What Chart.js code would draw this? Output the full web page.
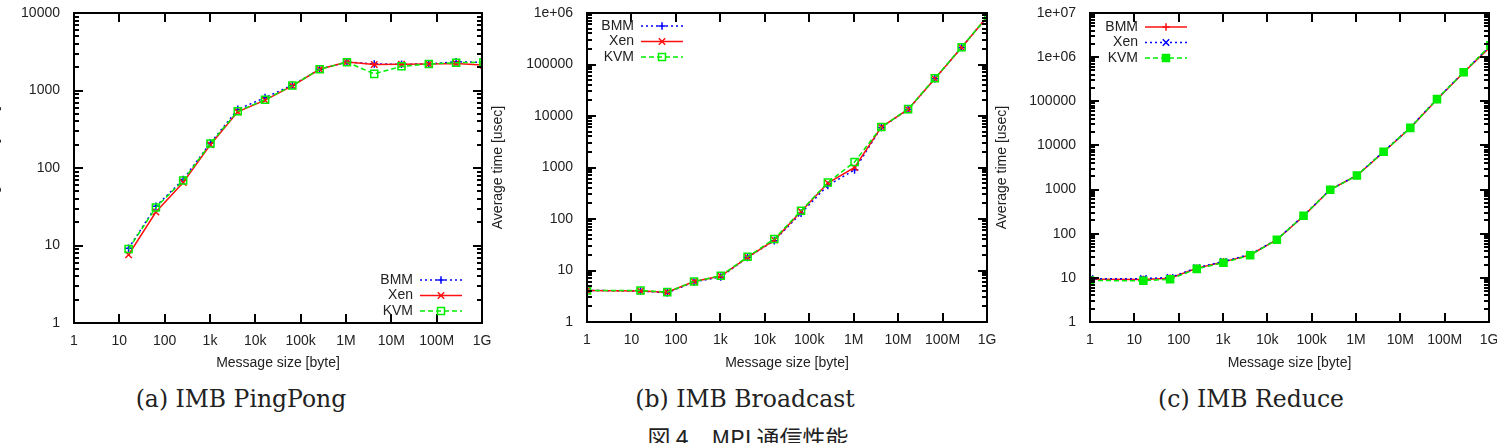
<!DOCTYPE html>
<html>
<head>
<meta charset="utf-8">
<script src="https://cdn.jsdelivr.net/npm/chart.js@4.4.1/dist/chart.umd.min.js"></script>
<style>
  body { margin: 0; background: #fff; width: 1497px; height: 443px; overflow: hidden; position: relative; }
  canvas { position: absolute; top: 0; }
  .cap { position: absolute; font-family: 'DejaVu Serif', serif; font-size: 23.5px; color: #222; white-space: nowrap; transform: translateX(-50%); }
  .fig { font-family: 'Noto Sans CJK JP', sans-serif; font-size: 23px; }
</style>
</head>
<body>
<canvas id="pingpong" width="508" height="380" style="left:-14px"></canvas>
<canvas id="broadcast" width="512" height="380" style="left:490px"></canvas>
<canvas id="reduce" width="503" height="380" style="left:994px"></canvas>
<div class="cap" style="left:241px; top:385px">(a) IMB PingPong</div>
<div class="cap" style="left:745px; top:385px">(b) IMB Broadcast</div>
<div class="cap" style="left:1251px; top:385px">(c) IMB Reduce</div>
<div class="cap fig" style="left:748px; top:420px">図 4　MPI 通信性能</div>
<script>
// message sizes [byte]
const pingpongSizes = [16, 64, 256, 1024, 4096, 16384, 65536, 262144, 1048576, 4194304, 16777216, 67108864, 268435456, 1073741824];
const collectiveSizes = [1, 16, 64, 256, 1024, 4096, 16384, 65536, 262144, 1048576, 4194304, 16777216, 67108864, 268435456, 1073741824];

// average time [usec]
const pingpongBMM = [9.2, 32, 71, 210, 570, 810, 1170, 1880, 2330, 2200, 2180, 2200, 2350, 2300];
const pingpongXen = [7.6, 27, 65, 200, 530, 750, 1150, 1880, 2330, 2160, 2180, 2200, 2230, 2120];
const pingpongKVM = [9.0, 31, 69, 207, 540, 760, 1160, 1880, 2320, 1640, 2050, 2200, 2280, 2320];

const broadcastBMM = [4.1, 4.0, 3.7, 6.0, 7.5, 18, 38, 130, 450, 900, 6000, 13400, 53000, 214000, 900000];
const broadcastXen = [4.1, 4.0, 3.8, 6.1, 7.8, 18, 39, 140, 500, 1000, 6100, 13400, 53000, 214000, 900000];
const broadcastKVM = [4.1, 4.1, 3.8, 6.1, 7.9, 18.5, 41, 145, 510, 1280, 6100, 13600, 54000, 216000, 910000];

const reduceBMM = [9.3, 9.2, 9.8, 16.5, 23, 33, 73, 250, 1000, 2080, 7100, 25000, 110000, 450000, 1700000];
const reduceXen = [9.6, 9.6, 10.2, 17, 23.5, 34, 74, 258, 1000, 2100, 7300, 25500, 113000, 460000, 1800000];
const reduceKVM = [8.7, 8.6, 9.3, 16, 22, 32.5, 73, 255, 990, 2080, 7200, 25000, 112000, 455000, 1850000];

// axis ticks
const xTickValues = [1, 10, 100, 1e3, 1e4, 1e5, 1e6, 1e7, 1e8, 1e9];
const xTickLabels = ['1', '10', '100', '1k', '10k', '100k', '1M', '10M', '100M', '1G'];
const yTickValues = [1, 10, 100, 1e3, 1e4, 1e5, 1e6, 1e7];
const yTickLabels = ['1', '10', '100', '1000', '10000', '100000', '1e+06', '1e+07'];
const yMinorSteps = [2, 3, 4, 5, 6, 7, 8, 9];

const RED = '#ff1010', GREEN = '#00ee00', BLUE = '#0000ff';

Chart.defaults.font.family = "'Liberation Sans', Arial, sans-serif";
Chart.defaults.font.size = 14;
Chart.defaults.color = '#222';

function drawMarker(ctx, style, x, y, r, color, filled) {
    ctx.save();
    ctx.strokeStyle = color;
    ctx.fillStyle = color;
    ctx.lineWidth = 1.5;
    ctx.setLineDash([]);
    ctx.beginPath();
    if (style === 'cross') {
        ctx.moveTo(x - r, y); ctx.lineTo(x + r, y);
        ctx.moveTo(x, y - r); ctx.lineTo(x, y + r);
        ctx.stroke();
    } else if (style === 'crossRot') {
        ctx.moveTo(x - r, y - r); ctx.lineTo(x + r, y + r);
        ctx.moveTo(x - r, y + r); ctx.lineTo(x + r, y - r);
        ctx.stroke();
    } else {
        ctx.rect(x - r, y - r, 2 * r, 2 * r);
        if (filled) ctx.fill();
        ctx.stroke();
    }
    ctx.restore();
}

// position of a value on a log axis between two pixel ends
function logPos(v, min, max, p0, p1) {
    const t = (Math.log10(v) - Math.log10(min)) / (Math.log10(max) - Math.log10(min));
    return p0 + t * (p1 - p0);
}

// gnuplot-like frame with inward ticks on all four sides, plus key
const frameTicks = {
    id: 'frameTicks',
    afterDraw(chart, args, opts) {
        const ctx = chart.ctx;
        const a = chart.chartArea;
        const L = a.left, R = a.right, T = a.top, B = a.bottom;
        ctx.save();
        ctx.setLineDash([]);
        ctx.globalAlpha = 1;
        ctx.strokeStyle = '#000';
        ctx.lineWidth = 2;
        ctx.beginPath();
        for (const v of xTickValues) {
            const px = Math.round(logPos(v, 1, 1e9, L, R));
            ctx.moveTo(px, B); ctx.lineTo(px, B - 9);
            ctx.moveTo(px, T); ctx.lineTo(px, T + 9);
        }
        for (const v of yTickValues) {
            if (v > opts.yMax) break;
            const py = Math.round(logPos(v, 1, opts.yMax, B, T));
            ctx.moveTo(L, py); ctx.lineTo(L + 9, py);
            ctx.moveTo(R, py); ctx.lineTo(R - 9, py);
            if (v < opts.yMax) {
                for (const k of yMinorSteps) {
                    const pm = Math.round(logPos(v * k, 1, opts.yMax, B, T));
                    ctx.moveTo(L, pm); ctx.lineTo(L + 5, pm);
                    ctx.moveTo(R, pm); ctx.lineTo(R - 5, pm);
                }
            }
        }
        ctx.rect(L, T, R - L, B - T);
        ctx.stroke();

        // key: label on the left, line sample on the right
        const textRight = L + opts.x;
        ctx.font = "14px 'Liberation Sans', Arial, sans-serif";
        ctx.textAlign = 'right';
        ctx.textBaseline = 'middle';
        chart.data.datasets.forEach((d, i) => {
            const yy = T + opts.y + i * opts.dy;
            ctx.fillStyle = '#222';
            ctx.fillText(d.label, textRight, yy);
            const x1 = textRight + 7, x2 = x1 + 42;
            ctx.strokeStyle = d.borderColor;
            ctx.lineWidth = d.borderWidth;
            ctx.setLineDash(d.borderDash || []);
            ctx.beginPath();
            ctx.moveTo(x1, yy); ctx.lineTo(x2, yy);
            ctx.stroke();
            drawMarker(ctx, d.pointStyle, (x1 + x2) / 2, yy, d.pointStyle === 'rect' ? 3.5 : (d.pointStyle === 'crossRot' ? 3.2 : 3.8), d.borderColor, d.pointBackgroundColor !== 'transparent');
        });
        ctx.restore();
    }
};

function series(label, sizes, values, color, dash, pointStyle, filled, order) {
    const radius = pointStyle === 'rect' ? 5 : (pointStyle === 'crossRot' ? 4.6 : 3.8);
    return {
        label,
        data: sizes.map((s, i) => ({ x: s, y: values[i] })),
        borderColor: color,
        backgroundColor: color,
        borderWidth: 1.5,
        borderDash: dash,
        pointStyle,
        pointRadius: radius,
        pointBorderWidth: 1.5,
        pointBorderColor: color,
        pointBackgroundColor: filled ? color : 'transparent',
        tension: 0,
        order
    };
}

function makeChart(id, datasets, yMax, layout, legend) {
    new Chart(document.getElementById(id), {
        type: 'line',
        data: { datasets },
        options: {
            responsive: false,
            animation: false,
            devicePixelRatio: 1,
            layout: { padding: { left: 0, top: layout.top, right: layout.right, bottom: layout.bottom } },
            plugins: { legend: { display: false }, tooltip: { enabled: false }, frameTicks: Object.assign({ yMax }, legend) },
            scales: {
                x: {
                    type: 'logarithmic',
                    min: 1, max: 1e9,
                    grid: { display: false },
                    border: { display: false },
                    ticks: {
                        autoSkip: false, maxRotation: 0, padding: 2,
                        callback: (v) => xTickLabels[xTickValues.indexOf(v)]
                    },
                    afterBuildTicks: s => { s.ticks = xTickValues.map(v => ({ value: v })); },
                    afterFit: s => { s.height = layout.xh; s.paddingLeft = 0; s.paddingRight = 0; },
                    title: { display: true, text: 'Message size [byte]', padding: 0, font: { size: 14 } }
                },
                y: {
                    type: 'logarithmic',
                    min: 1, max: yMax,
                    grid: { display: false },
                    border: { display: false },
                    ticks: {
                        autoSkip: false, padding: 6,
                        callback: (v) => yTickLabels[yTickValues.indexOf(v)]
                    },
                    afterBuildTicks: s => { s.ticks = yTickValues.filter(v => v <= yMax).map(v => ({ value: v })); },
                    afterFit: s => { s.width = layout.yw; s.paddingTop = 0; s.paddingBottom = 0; },
                    title: { display: true, text: 'Average time [usec]', padding: 0, font: { size: 14 } }
                }
            }
        },
        plugins: [frameTicks]
    });
}

makeChart('pingpong', [
    series('BMM', pingpongSizes, pingpongBMM, BLUE, [2, 3], 'cross', false, 2),
    series('Xen', pingpongSizes, pingpongXen, RED, [], 'crossRot', false, 1),
    series('KVM', pingpongSizes, pingpongKVM, GREEN, [5, 3], 'rect', false, 0)
], 1e4, { top: 13, right: 12, bottom: 8, xh: 49, yw: 88 }, { x: 339, y: 267, dy: 15.5 });

makeChart('broadcast', [
    series('BMM', collectiveSizes, broadcastBMM, BLUE, [2, 3], 'cross', false, 2),
    series('Xen', collectiveSizes, broadcastXen, RED, [], 'crossRot', false, 1),
    series('KVM', collectiveSizes, broadcastKVM, GREEN, [5, 3], 'rect', false, 0)
], 1e6, { top: 13, right: 15, bottom: 8, xh: 50, yw: 97 }, { x: 47, y: 13, dy: 15.5 });

makeChart('reduce', [
    series('BMM', collectiveSizes, reduceBMM, RED, [], 'cross', false, 2),
    series('Xen', collectiveSizes, reduceXen, BLUE, [2, 3], 'crossRot', false, 1),
    series('KVM', collectiveSizes, reduceKVM, GREEN, [5, 3], 'rect', true, 0)
], 1e7, { top: 13, right: 8, bottom: 8, xh: 50, yw: 96 }, { x: 48, y: 14, dy: 15.5 });
</script>
</body>
</html>
